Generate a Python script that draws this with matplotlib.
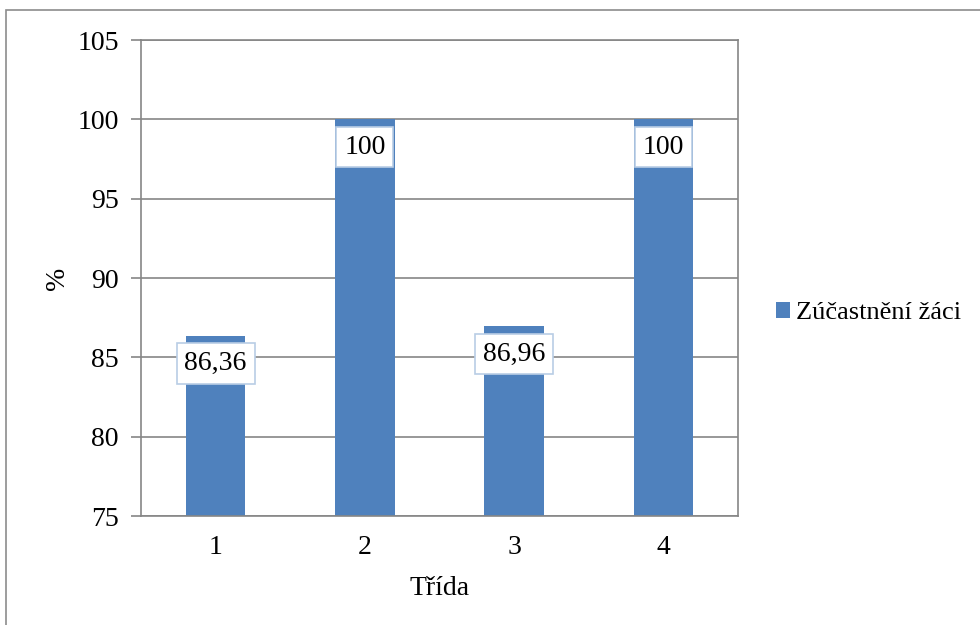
import matplotlib.pyplot as plt
from matplotlib.patches import Rectangle

# Podíl zúčastněných žáků podle třídy
tridy = ["1", "2", "3", "4"]
ucast = [86.36, 100, 86.96, 100]
popisky = ["86,36", "100", "86,96", "100"]

plt.rcParams['font.family'] = ['Liberation Serif', 'DejaVu Serif']
FS = 20

fig = plt.figure(figsize=(9.8, 6.25), dpi=100)
W, H = 980, 625

# vnější rámeček grafu
fig.patches.append(Rectangle((6 / W, -0.05), 1.1, (H - 10) / H + 0.05,
                             transform=fig.transFigure, fill=False,
                             edgecolor='#8c8c8c', linewidth=1.2))

ax = fig.add_axes([141 / W, 1 - 516 / H, (738 - 141) / W, (516 - 40) / H])

x = range(len(tridy))
ax.bar(x, ucast, width=0.4, color='#4f81bd', zorder=2)

ax.set_ylim(75, 105)
ax.set_xlim(-0.5, len(tridy) - 0.5)
ax.set_yticks(range(75, 106, 5))
ax.set_xticks(list(x))
ax.set_xticklabels(tridy)
ax.yaxis.grid(True, color='#868686', linewidth=1.2, zorder=0)

for s in ['left', 'bottom', 'top', 'right']:
    ax.spines[s].set_color('#868686')
    ax.spines[s].set_linewidth(1.2)

ax.tick_params(axis='y', length=7, width=1.2, color='#868686', labelsize=FS, pad=9)
ax.tick_params(axis='x', length=0, labelsize=FS, pad=14)

# popisky hodnot uvnitř konce sloupců
for xi, v, t in zip(x, ucast, popisky):
    ax.annotate(t, (xi, v), xytext=(0, -20), textcoords='offset points',
                ha='center', va='center', fontsize=FS, zorder=4,
                bbox=dict(boxstyle='square,pad=0.28', facecolor='white',
                          edgecolor='#b9cde5', linewidth=1.2))

ax.set_xlabel("Třída", fontsize=FS, labelpad=11)
ax.set_ylabel("%", fontsize=FS, labelpad=5)

ax.bar([0], [0], color='#4f81bd', label="Zúčastnění žáci")
ax.legend(loc='center left', bbox_to_anchor=(752 / W, 1 - 313 / H),
          bbox_transform=fig.transFigure, frameon=False, fontsize=19,
          handlelength=0.55, handleheight=0.55, handletextpad=0.2)

fig.savefig("out.png", dpi=100)
